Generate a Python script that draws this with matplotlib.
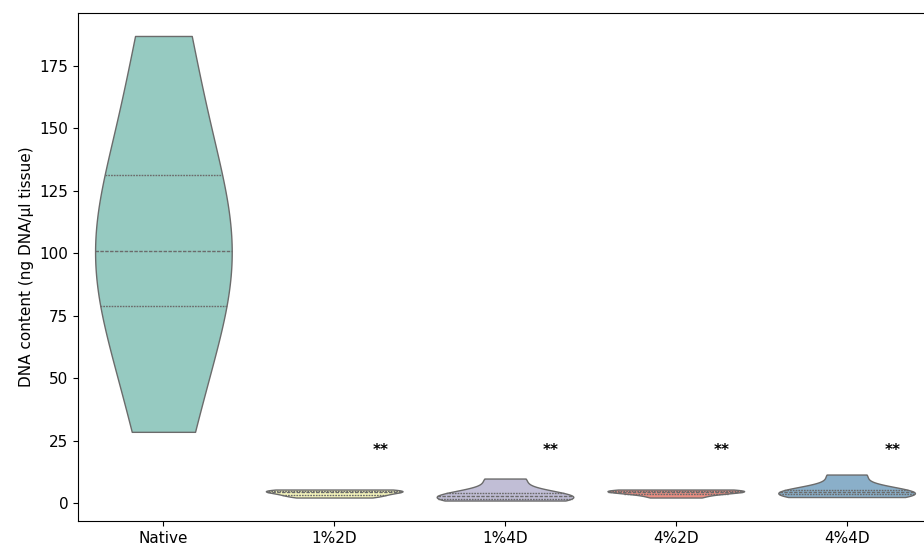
import matplotlib
matplotlib.use("Agg")
import matplotlib.pyplot as plt
import seaborn as sns
import pandas as pd

categories = ["Native", "1%2D", "1%4D", "4%2D", "4%4D"]
native = [28.5, 68.0, 90.0, 101.0, 118.0, 145.0, 187.0]
g_1_2d = [2.2, 3.2, 4.4, 5.0, 5.4]
g_1_4d = [1.0, 1.8, 2.8, 4.0, 9.8]
g_4_2d = [2.2, 3.8, 4.6, 5.0, 5.4]
g_4_4d = [2.4, 3.6, 4.4, 5.2, 11.4]
stars = ["", "**", "**", "**", "**"]
star_y = 21.0

values = [native, g_1_2d, g_1_4d, g_4_2d, g_4_4d]
rows = []
for c, vals in zip(categories, values):
    for v in vals:
        rows.append({"group": c, "value": v})
df = pd.DataFrame(rows)

palette = sns.color_palette("Set3", len(categories))

fig = plt.figure(figsize=(9.24, 5.52), dpi=100)
ax = fig.add_axes([78/924, 31/552, (932-78)/924, (521-13)/552])

kw = dict(data=df, x="group", y="value", order=categories, palette=palette,
          inner="quartile", cut=0, ax=ax, hue="group", legend=False)
try:
    sns.violinplot(density_norm="width", linecolor="0.42", linewidth=1, **kw)
except TypeError:
    kw.pop("legend")
    sns.violinplot(scale="width", linewidth=1, **kw)

for i, s in enumerate(stars):
    if s:
        ax.text(i + 0.27, star_y, s, ha="center", va="center", fontsize=11, fontweight="bold")

ax.set_xlim(-0.5, 4.5)
ax.set_ylim(-7.2, 196.2)
ax.set_xlabel("")
ax.set_ylabel("DNA content (ng DNA/µl tissue)", fontsize=11)
ax.tick_params(labelsize=11)

fig.savefig("out.png", dpi=100)
